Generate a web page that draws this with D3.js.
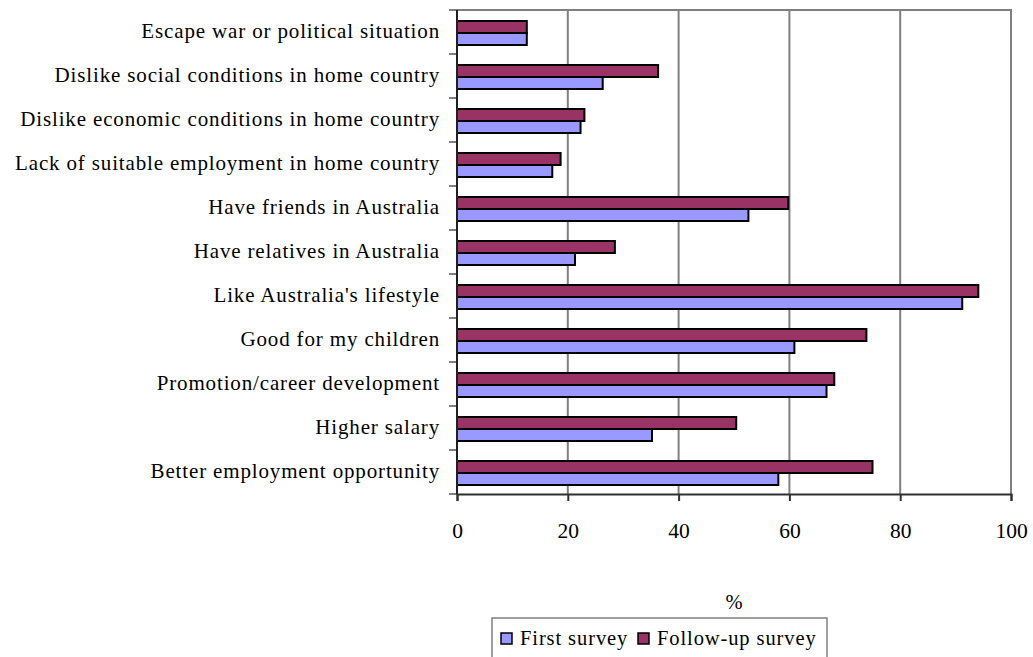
<!DOCTYPE html>
<html>
<head>
<meta charset="utf-8">
<script src="https://cdn.jsdelivr.net/npm/d3@7"></script>
<style>
  html, body { margin: 0; padding: 0; background: #fff; }
  svg { display: block; }
  text { font-family: "Liberation Serif", "Times New Roman", serif; fill: #000; }
</style>
</head>
<body>
<svg id="chart" width="1033" height="657"></svg>
<script>
// Reasons for migrating to Australia, top to bottom
const categories = [
  "Escape war or political situation",
  "Dislike social conditions in home country",
  "Dislike economic conditions in home country",
  "Lack of suitable employment in home country",
  "Have friends in Australia",
  "Have relatives in Australia",
  "Like Australia's lifestyle",
  "Good for my children",
  "Promotion/career development",
  "Higher salary",
  "Better employment opportunity"
];
const firstSurvey   = [12.6, 26.3, 22.3, 17.2, 52.6, 21.3, 91.2, 60.9, 66.7, 35.2, 58.0];
const followUp      = [12.6, 36.3, 23.0, 18.7, 59.8, 28.5, 94.1, 73.9, 68.1, 50.4, 75.0];
const seriesNames   = ["Follow-up survey", "First survey"]; // drawing order within a band
const legendNames   = ["First survey", "Follow-up survey"];
const xTicks        = [0, 20, 40, 60, 80, 100];
const axisTitle     = "%";

const colors = { "First survey": "#9999ff", "Follow-up survey": "#993366" };
const values = { "First survey": firstSurvey, "Follow-up survey": followUp };

const FONT = 20.5, SPACING = 0.9;

const svg = d3.select("#chart");
const plot = { left: 457, right: 1011, top: 10, bottom: 494 };

const x = d3.scaleLinear().domain([0, 100]).range([plot.left, plot.right]);
const y = d3.scaleBand().domain(categories).range([plot.top, plot.bottom])
  .paddingInner(0.4545).paddingOuter(0.2273).align(0.55);
const ySeries = d3.scaleBand().domain(seriesNames).range([0, y.bandwidth()]);
const step = (plot.bottom - plot.top) / categories.length;

// vertical gridlines and plot frame
svg.append("g").selectAll("line").data(xTicks.filter(d => d > 0)).join("line")
  .attr("x1", d => x(d)).attr("x2", d => x(d))
  .attr("y1", plot.top).attr("y2", plot.bottom)
  .attr("stroke", "#808080").attr("stroke-width", 2);
svg.append("line")
  .attr("x1", plot.left).attr("x2", plot.right + 1)
  .attr("y1", plot.top).attr("y2", plot.top)
  .attr("stroke", "#808080").attr("stroke-width", 2);

// bars
const rows = svg.append("g").selectAll("g").data(categories).join("g")
  .attr("transform", d => `translate(0,${y(d)})`);
rows.selectAll("rect")
  .data((c, i) => seriesNames.map(s => ({ s, v: values[s][i] })))
  .join("rect")
  .attr("x", x(0))
  .attr("y", d => ySeries(d.s))
  .attr("width", d => x(d.v) - x(0))
  .attr("height", ySeries.bandwidth())
  .attr("fill", d => colors[d.s])
  .attr("stroke", "#000").attr("stroke-width", 2);

// category axis (left)
const bounds = d3.range(categories.length + 1).map(i => plot.top + i * step);
svg.append("g").selectAll("line").data(bounds).join("line")
  .attr("x1", plot.left - 8).attr("x2", plot.left)
  .attr("y1", d => d).attr("y2", d => d)
  .attr("stroke", "#808080").attr("stroke-width", 2);
svg.append("line")
  .attr("x1", plot.left).attr("x2", plot.left)
  .attr("y1", plot.top).attr("y2", plot.bottom)
  .attr("stroke", "#202020").attr("stroke-width", 2);
svg.append("g").selectAll("text").data(categories).join("text")
  .attr("x", 440)
  .attr("y", (d, i) => plot.top + i * step + step / 2 - 1)
  .attr("dy", "0.35em")
  .attr("text-anchor", "end")
  .attr("font-size", 21)
  .attr("letter-spacing", 0.85)
  .text(d => d);

// value axis (bottom)
const xAxis = d3.axisBottom(x).tickValues(xTicks).tickSize(7).tickPadding(22);
const gx = svg.append("g").attr("transform", `translate(0,${plot.bottom})`).call(xAxis);
gx.select(".domain").attr("stroke", "#303030").attr("stroke-width", 2);
gx.selectAll(".tick line").attr("stroke", "#303030").attr("stroke-width", 2);
gx.selectAll(".tick text")
  .attr("font-size", 21.5);

svg.append("text")
  .attr("x", (plot.left + plot.right) / 2).attr("y", 609)
  .attr("text-anchor", "middle").attr("font-size", FONT)
  .text(axisTitle);

// legend
const lg = svg.append("g");
lg.append("rect")
  .attr("x", 492).attr("y", 618).attr("width", 335).attr("height", 60)
  .attr("fill", "#fff").attr("stroke", "#808080").attr("stroke-width", 1.5);
const legendX = [501, 638];
legendNames.forEach((name, i) => {
  lg.append("rect")
    .attr("x", legendX[i]).attr("y", 633).attr("width", 11).attr("height", 11)
    .attr("fill", colors[name]).attr("stroke", "#000").attr("stroke-width", 1.5);
  lg.append("text")
    .attr("x", legendX[i] + 19).attr("y", 645)
    .attr("font-size", FONT).attr("letter-spacing", SPACING)
    .text(name);
});
</script>
</body>
</html>
